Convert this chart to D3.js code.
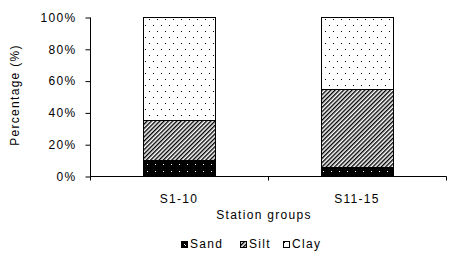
<!DOCTYPE html>
<html>
<head>
<meta charset="utf-8">
<script src="https://d3js.org/d3.v7.min.js"></script>
<style>
    body { margin: 0; background: #fff; }
    text { font-family: Arial, "Liberation Sans", sans-serif; font-size: 12px; letter-spacing: 1.3px; fill: #000; }
</style>
</head>
<body>
<div id="chart"></div>
<script>

// station groups and composition (%)
var categories = ["S1-10", "S11-15"];
var sand = [10, 5.5];
var silt = [25, 49];
var clay = [65, 45.5];
var components = ["Sand", "Silt", "Clay"];
var yTicks = [0, 20, 40, 60, 80, 100];

var width = 456, height = 257;
var margin = {top: 17, right: 10, bottom: 81, left: 90};

var svg = d3.select("#chart").append("svg")
    .attr("width", width)
    .attr("height", height);

// fill patterns
var defs = svg.append("defs");

var pSand = defs.append("pattern")
    .attr("id", "pat-sand")
    .attr("patternUnits", "userSpaceOnUse")
    .attr("width", 8).attr("height", 7);
pSand.append("rect").attr("width", 8).attr("height", 7).attr("fill", "#000");
pSand.append("rect").attr("x", 3).attr("y", 3).attr("width", 1).attr("height", 1).attr("fill", "#fff");

var pSilt = defs.append("pattern")
    .attr("id", "pat-silt")
    .attr("patternUnits", "userSpaceOnUse")
    .attr("width", 3).attr("height", 3)
    .attr("patternTransform", "rotate(45)");
pSilt.append("rect").attr("width", 3).attr("height", 3).attr("fill", "#fff");
pSilt.append("rect").attr("width", 1.4).attr("height", 3).attr("fill", "#000");

var pClay = defs.append("pattern")
    .attr("id", "pat-clay")
    .attr("patternUnits", "userSpaceOnUse")
    .attr("width", 8).attr("height", 12);
pClay.append("rect").attr("width", 8).attr("height", 12).attr("fill", "#fff");
pClay.append("rect").attr("x", 1).attr("y", 1).attr("width", 1).attr("height", 1).attr("fill", "#000");
pClay.append("rect").attr("x", 5).attr("y", 7).attr("width", 1).attr("height", 1).attr("fill", "#000");

var fills = {Sand: "url(#pat-sand)", Silt: "url(#pat-silt)", Clay: "url(#pat-clay)"};

// scales
var x = d3.scaleBand()
    .domain(categories)
    .range([margin.left, width - margin.right])
    .paddingInner(0.595)
    .paddingOuter(0.2975);

var y = d3.scaleLinear()
    .domain([0, 100])
    .range([height - margin.bottom, margin.top]);

// stacked data
var rows = categories.map(function(c, i) {
    return {group: c, Sand: sand[i], Silt: silt[i], Clay: clay[i]};
});
var stacked = d3.stack().keys(components)(rows);

svg.selectAll(".layer")
    .data(stacked)
    .enter().append("g")
    .attr("class", "layer")
    .attr("fill", d => fills[d.key])
    .selectAll("rect")
    .data(d => d)
    .enter().append("rect")
    .attr("x", d => Math.round(x(d.data.group)) + 0.5)
    .attr("width", Math.round(x.bandwidth()))
    .attr("y", d => Math.round(y(d[1])) + 0.5)
    .attr("height", d => Math.round(y(d[0])) - Math.round(y(d[1])))
    .attr("stroke", "#000")
    .attr("stroke-width", 1);

// y axis
var yAxis = svg.append("g")
    .attr("transform", "translate(" + (margin.left + 0.5) + ",0.5)")
    .call(d3.axisLeft(y).tickValues(yTicks).tickSize(5).tickPadding(9).tickFormat(d => d + "%"));
yAxis.select(".domain").attr("d", "M0," + Math.round(y(100)) + "V" + Math.round(y(0)));
yAxis.selectAll(".tick line").attr("stroke", "#000");
yAxis.selectAll("text").style("font-size", "12px");

// x axis: category boundary ticks pointing down
var x0 = margin.left, x1 = width - margin.right;
var xAxis = svg.append("g").attr("transform", "translate(0," + (Math.round(y(0)) + 0.5) + ")");
xAxis.append("line")
    .attr("x1", x0).attr("x2", x1 + 0.5)
    .attr("stroke", "#000");
xAxis.selectAll(".bound")
    .data([x0, (x0 + x1) / 2, x1])
    .enter().append("line")
    .attr("class", "bound")
    .attr("x1", d => Math.round(d) + 0.5).attr("x2", d => Math.round(d) + 0.5)
    .attr("y1", 0).attr("y2", 4)
    .attr("stroke", "#000");
xAxis.selectAll(".cat")
    .data(categories)
    .enter().append("text")
    .attr("class", "cat")
    .attr("x", d => x(d) + x.bandwidth() / 2)
    .attr("y", 26.5)
    .attr("text-anchor", "middle")
    .text(d => d);

// axis titles
svg.append("text")
    .attr("x", 264)
    .attr("y", 219)
    .attr("text-anchor", "middle")
    .text("Station groups");

svg.append("text")
    .attr("transform", "translate(19,95) rotate(-90)")
    .attr("text-anchor", "middle")
    .text("Percentage (%)");

// legend
var legendX = [181, 240, 283];
var legend = svg.selectAll(".legend")
    .data(components)
    .enter().append("g")
    .attr("class", "legend")
    .attr("transform", (d, i) => "translate(" + legendX[i] + ",241)");
legend.append("rect")
    .attr("x", 0.5).attr("y", 0.5)
    .attr("width", 6).attr("height", 6)
    .attr("fill", d => fills[d])
    .attr("stroke", "#000");
legend.append("rect")
    .filter(d => d == "Sand")
    .attr("x", 4).attr("y", 4)
    .attr("width", 1).attr("height", 1)
    .attr("fill", "#fff");
legend.append("text")
    .attr("x", 9)
    .attr("y", 7)
    .text(d => d);

</script>
</body>
</html>
